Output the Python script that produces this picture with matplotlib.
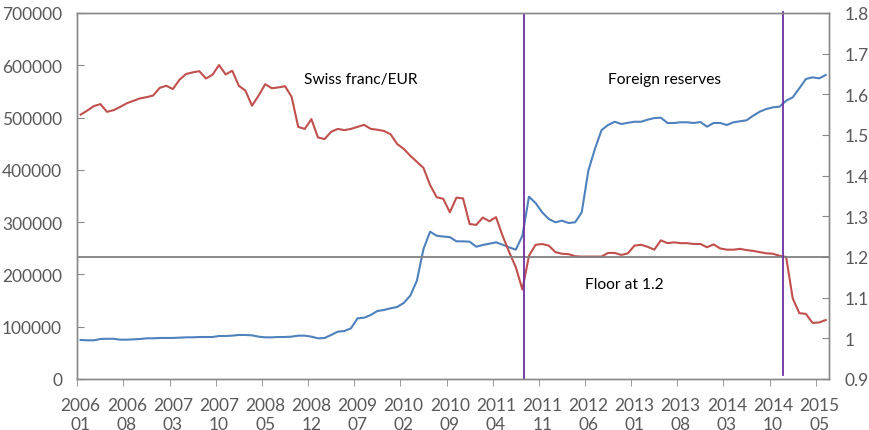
import numpy as np
import matplotlib
matplotlib.use("Agg")
import matplotlib.pyplot as plt

plt.rcParams["font.family"] = ["Lato", "DejaVu Sans"]

# monthly data, 2006-01 .. 2015-06
start_year, start_month = 2006, 1

# foreign reserves (left axis, CHF mn)
reserves = [
    74600, 74000, 74000, 76500, 76900, 76900, 75200, 75200, 75800, 76500,
    77800, 77800, 78500, 78500, 78500, 79100, 79700, 79700, 80300, 80300,
    80300, 82200, 82200, 82900, 84200, 84200, 83500, 81000, 79700, 79700,
    80300, 80300, 81000, 82900, 82900, 81000, 77800, 78400, 84200, 90500,
    91800, 96900, 116000, 117300, 122400, 130000, 132000, 135200, 137700, 145400,
    159400, 188000, 248600, 281700, 274000, 272500, 271300, 263300, 263300, 262600,
    253000, 256300, 258800, 261400, 256900, 251800, 247300, 274000, 348700, 336600,
    318800, 306000, 299700, 302800, 298400, 299700, 318800, 398400, 440000, 476000,
    485800, 492000, 487700, 490000, 492000, 492000, 496000, 499000, 499800, 489600,
    489600, 491000, 491000, 489600, 491500, 482600, 489600, 489600, 485800, 491000,
    492900, 494800, 503600, 511300, 516400, 519600, 520800, 532300, 538800, 556000,
    573800, 577000, 575000, 581400,
]

# Swiss franc per EUR (right axis)
chf_eur = [
    1.550, 1.560, 1.571, 1.576, 1.557, 1.561, 1.569, 1.578, 1.584, 1.590,
    1.593, 1.597, 1.616, 1.621, 1.613, 1.636, 1.650, 1.654, 1.657, 1.639,
    1.648, 1.672, 1.649, 1.658, 1.621, 1.609, 1.572, 1.597, 1.625, 1.615,
    1.617, 1.620, 1.594, 1.520, 1.515, 1.539, 1.494, 1.490, 1.508, 1.515,
    1.512, 1.515, 1.520, 1.525, 1.515, 1.513, 1.510, 1.502, 1.478, 1.466,
    1.449, 1.434, 1.419, 1.377, 1.347, 1.343, 1.310, 1.346, 1.344, 1.281,
    1.279, 1.297, 1.288, 1.298, 1.252, 1.212, 1.175, 1.120, 1.203, 1.230,
    1.232, 1.228, 1.212, 1.208, 1.207, 1.202, 1.201, 1.201, 1.201, 1.201,
    1.210, 1.210, 1.205, 1.209, 1.228, 1.230, 1.225, 1.218, 1.241, 1.234,
    1.236, 1.234, 1.234, 1.232, 1.232, 1.224, 1.231, 1.221, 1.218, 1.218,
    1.220, 1.217, 1.215, 1.212, 1.209, 1.208, 1.203, 1.200, 1.098, 1.062,
    1.060, 1.038, 1.039, 1.045,
]

floor_rate = 1.2
# floor introduced (Sep 2011) / removed (Jan 2015), in month index units
events = [67.3, 106.5]

n = len(chf_eur)
x = np.arange(n)
labels = []
for i in range(n):
    m = start_month - 1 + i
    labels.append(f"{start_year + m // 12}\n{m % 12 + 1:02d}")

grey = "#898989"
txt = "#595959"

fig = plt.figure(figsize=(8.7, 4.31), dpi=100)
ax = fig.add_axes([77.3 / 870, 1 - 380 / 431, (829 - 77.3) / 870, 366 / 431])
ax2 = ax.twinx()

ax.plot(x, reserves, color="#4F81BD", lw=1.5)
ax2.plot(x, chf_eur, color="#C0504D", lw=1.5)
ax2.axhline(floor_rate, color="#808080", lw=1.3)
ax2.axvline(events[0], ymin=0, ymax=0.995, color="#7030A0", lw=1.3, clip_on=False)
ax2.axvline(events[1], ymin=0.011, ymax=1.003, color="#7030A0", lw=1.3, clip_on=False)

ax.set_xlim(-0.5, n - 0.5)
ax.set_ylim(0, 700000)
ax2.set_ylim(0.9, 1.8)

ax.set_yticks(np.arange(0, 700001, 100000))
ax.set_yticklabels([f"{v:d}" for v in range(0, 700001, 100000)])
rt = [round(0.9 + 0.1 * k, 1) for k in range(10)]
ax2.set_yticks(rt)
ax2.set_yticklabels(["1" if v == 1.0 else f"{v:g}" for v in rt])

pos = list(range(0, n, 7))
ax.set_xticks(pos)
ax.set_xticklabels([labels[p] for p in pos], linespacing=1.2)
ax.set_xticks([p - 0.5 for p in pos], minor=True)
ax.tick_params(axis="x", which="major", length=0, pad=13, labelsize=12.5, labelcolor=txt)
ax.tick_params(axis="x", which="minor", length=5, direction="out", color=grey)
ax.tick_params(axis="y", length=5, direction="in", color=grey, pad=11, labelsize=12.5, labelcolor=txt)
ax2.tick_params(axis="y", length=5, direction="in", color=grey, pad=11, labelsize=12.5, labelcolor=txt)

for a in (ax, ax2):
    for s in a.spines.values():
        s.set_color(grey)
        s.set_linewidth(1.0)

fig.text(361 / 870, 1 - 80 / 431, "Swiss franc/EUR", fontsize=11.2, ha="center", va="center")
fig.text(665 / 870, 1 - 80 / 431, "Foreign reserves", fontsize=11.2, ha="center", va="center")
fig.text(624 / 870, 1 - 285 / 431, "Floor at 1.2", fontsize=11.2, ha="center", va="center")

fig.savefig("out.png", dpi=100)
